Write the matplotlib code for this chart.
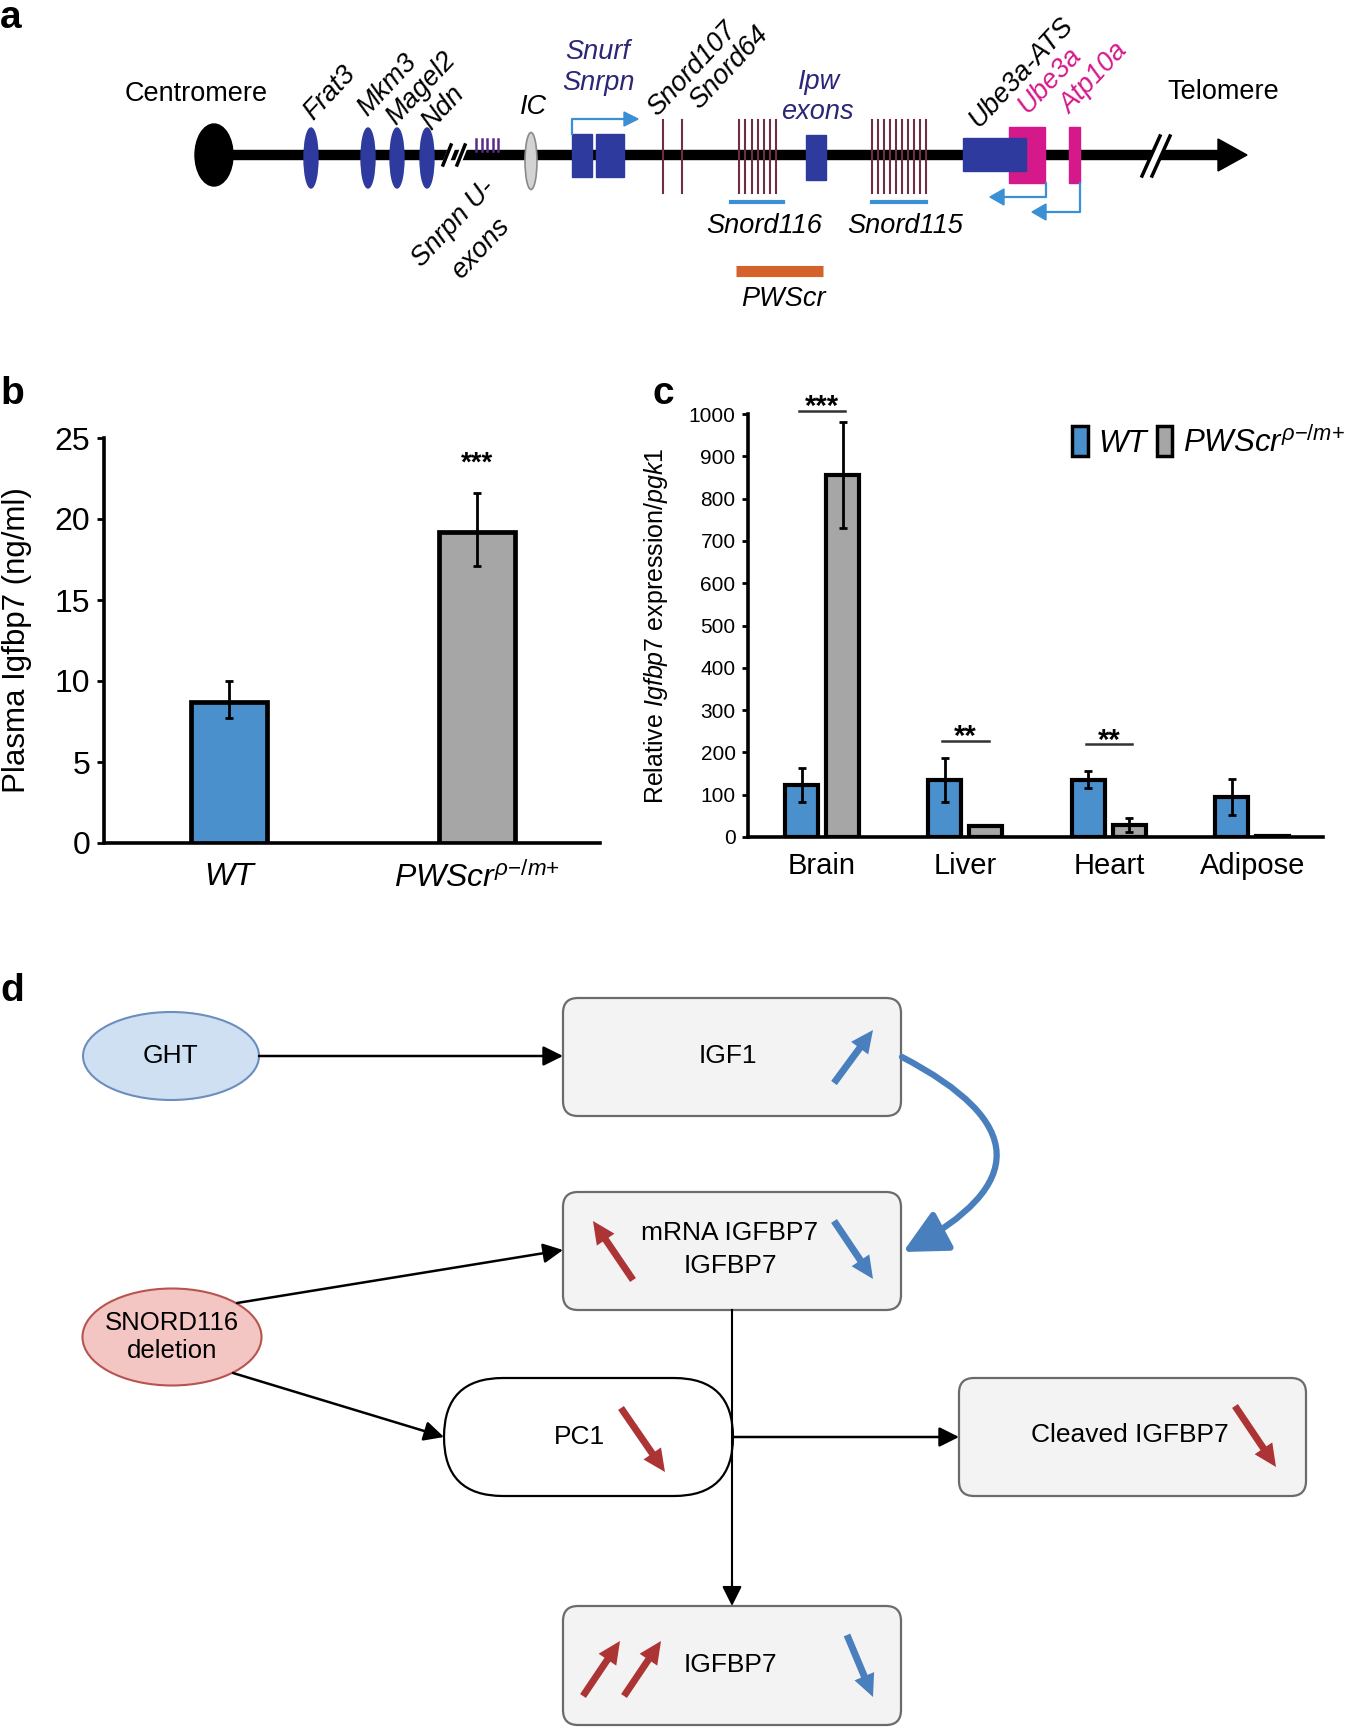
import matplotlib
matplotlib.use('Agg')
import matplotlib.pyplot as plt
from matplotlib.patches import Ellipse, Rectangle, FancyBboxPatch, FancyArrowPatch, Polygon, Patch
import numpy as np

plt.rcParams['font.family'] = ['Liberation Sans', 'DejaVu Sans']
plt.rcParams['mathtext.fontset'] = 'custom'
plt.rcParams['mathtext.it'] = 'Liberation Sans:italic'
plt.rcParams['mathtext.rm'] = 'Liberation Sans'
plt.rcParams['mathtext.cal'] = 'Liberation Sans:italic'

W, H = 1345, 1728
PWS = r'$PWScr^{\rho{-}/m{+}}$'

# ---- panel b data
b_groups = ['WT', PWS]
b_values = [8.7, 19.2]
b_err_lo = [1.0, 2.1]
b_err_hi = [1.3, 2.4]
b_colors = ['#4a90cd', '#a6a6a6']

# ---- panel c data
tissues = ['Brain', 'Liver', 'Heart', 'Adipose']
c_wt = [122, 135, 135, 95]
c_wt_err = [40, 52, 20, 42]
c_pws = [855, 27, 28, 3]
c_pws_err = [125, 0, 16, 0]
c_sig = ['***', '**', '**', '']
c_sig_y = [1008, 228, 219, 0]

# ---- panel a data (gene map)
gene_names = ['Frat3', 'Mkm3', 'Magel2', 'Ndn']
gene_x = [311, 368, 397, 427]
snord116_x = [739, 745, 752, 758, 764, 770, 776]
snord115_x = [872, 878, 884, 890, 896, 902, 908, 914, 920, 926]
snord_single_x = [663, 682]
uexon_x = [476, 482, 487, 493, 498]

fig = plt.figure(figsize=(W / 100, H / 100), dpi=100)
ov = fig.add_axes([0, 0, 1, 1])
ov.set_xlim(0, W)
ov.set_ylim(H, 0)
ov.axis('off')


def fx(x):
    return x / W


def fy(y):
    return 1 - y / H


# panel letters
for letter, (x, y) in zip('abcd', [(0, 0), (0, 376), (652, 376), (0, 973)]):
    ov.text(x, y, letter, fontsize=28, fontweight='bold', va='top', ha='left')

# ================= panel a =================
LY = 155
navy = '#2b2676'
gblue = '#2e3a9e'
maroon = '#6d2e46'
lblue = '#3b8fd4'
pink = '#d6198a'

ov.plot([215, 1222], [LY, LY], color='black', lw=7.5, solid_capstyle='butt', zorder=2)
ov.add_patch(Polygon([[1218, LY - 16], [1247, LY], [1218, LY + 16]], closed=True, color='black', zorder=2))
ov.add_patch(Ellipse((214, LY), 38, 62, color='black', zorder=3))
for gx in gene_x:
    ov.add_patch(Ellipse((gx, LY + 3), 14, 60, color=gblue, zorder=3))

# break marks
for bx in [449, 461]:
    ov.plot([bx - 4, bx + 4], [LY + 10, LY - 10], color='white', lw=5, zorder=3)
ov.plot([443, 451], [LY + 10, LY - 10], color='black', lw=2.5, zorder=4)
ov.plot([457, 465], [LY + 10, LY - 10], color='black', lw=2.5, zorder=4)
ov.plot([1148, 1164], [LY + 18, LY - 18], color='white', lw=6, zorder=3)
ov.plot([1142, 1160], [LY + 21, LY - 19], color='black', lw=2.5, zorder=4)
ov.plot([1152, 1170], [LY + 21, LY - 19], color='black', lw=2.5, zorder=4)

for ux in uexon_x:
    ov.plot([ux, ux], [139, 151], color='#5a2a8a', lw=1.8, zorder=4)

ov.add_patch(Ellipse((531, LY + 6), 12, 57, facecolor='#d3d3d3', edgecolor='#8a8a8a', lw=1.2, zorder=3))
ov.add_patch(Rectangle((572, 134), 20, 43, color=gblue, zorder=3))
ov.add_patch(Rectangle((596, 134), 28, 43, color=gblue, zorder=3))
ov.plot([572, 572, 626], [134, 119, 119], color=lblue, lw=1.6, zorder=4)
ov.add_patch(Polygon([[624, 112], [638, 119], [624, 126]], closed=True, color=lblue, zorder=4))

for sx in snord_single_x + snord116_x + snord115_x:
    ov.plot([sx, sx], [120, 193], color=maroon, lw=1.5, zorder=3)
ov.plot([731, 783], [202, 202], color=lblue, lw=3, zorder=3)
ov.plot([872, 926], [202, 202], color=lblue, lw=3, zorder=3)
ov.add_patch(Rectangle((806, 135), 20, 45, color=gblue, zorder=3))

ov.add_patch(Rectangle((1009, 127), 36, 56, color=pink, zorder=3))
ov.add_patch(Rectangle((1069, 127), 11, 56, color=pink, zorder=3))
ov.add_patch(Rectangle((963, 138), 63, 33, color=gblue, zorder=4))
ov.plot([1046, 1046, 1002], [183, 197, 197], color=lblue, lw=1.6, zorder=4)
ov.add_patch(Polygon([[1004, 189], [990, 197], [1004, 205]], closed=True, color=lblue, zorder=4))
ov.plot([1080, 1080, 1044], [183, 212, 212], color=lblue, lw=1.6, zorder=4)
ov.add_patch(Polygon([[1046, 204], [1032, 212], [1046, 220]], closed=True, color=lblue, zorder=4))

ov.plot([736, 823], [271, 271], color='#d4622a', lw=8, solid_capstyle='butt', zorder=3)

fa = 19.5
ov.text(196, 94, 'Centromere', fontsize=fa, ha='center', va='center')
ov.text(1223, 92, 'Telomere', fontsize=fa, ha='center', va='center')
rot_labels = [('Frat3', 313, 121, 'black'), ('Mkm3', 367, 117, 'black'),
              ('Magel2', 396, 126, 'black'), ('Ndn', 431, 131, 'black'),
              ('Snord107', 657, 117, 'black'), ('Snord64', 699, 110, 'black'),
              ('Ube3a-ATS', 979, 128, 'black'), ('Ube3a', 1028, 114, pink),
              ('Atp10a', 1070, 115, pink)]
for name, x, y, col in rot_labels:
    ov.text(x, y, name, fontsize=fa, style='italic', color=col, rotation=47,
            rotation_mode='anchor', ha='left', va='baseline')
ov.text(422, 268, 'Snrpn U-', fontsize=fa, style='italic', rotation=47,
        rotation_mode='anchor', ha='left', va='baseline')
ov.text(461, 280, 'exons', fontsize=fa, style='italic', rotation=47,
        rotation_mode='anchor', ha='left', va='baseline')
ov.text(533, 107, 'IC', fontsize=fa, style='italic', ha='center', va='center')
ov.text(598, 52, 'Snurf', fontsize=fa, style='italic', color=navy, ha='center', va='center')
ov.text(598, 83, 'Snrpn', fontsize=fa, style='italic', color=navy, ha='center', va='center')
ov.text(819, 82, 'Ipw', fontsize=fa, style='italic', color=navy, ha='center', va='center')
ov.text(817, 112, 'exons', fontsize=fa, style='italic', color=navy, ha='center', va='center')
ov.text(764, 226, 'Snord116', fontsize=fa, style='italic', ha='center', va='center')
ov.text(905, 226, 'Snord115', fontsize=fa, style='italic', ha='center', va='center')
ov.text(783, 299, 'PWScr', fontsize=fa, style='italic', ha='center', va='center')

# ================= panel b =================
axb = fig.add_axes([fx(104), fy(843), (600 - 104) / W, (843 - 438) / H])
axb.set_facecolor('none')
xb = np.arange(len(b_values))
axb.bar(xb, b_values, width=0.31, color=b_colors, edgecolor='black', linewidth=3.4,
        yerr=[b_err_lo, b_err_hi], capsize=3,
        error_kw=dict(elinewidth=2, capthick=2, ecolor='black'), zorder=3)
axb.text(1, 23.4, '***', ha='center', va='center', fontsize=20, fontweight='bold')
axb.set_xlim(-0.504, 1.496)
axb.set_ylim(0, 25)
axb.set_yticks([0, 5, 10, 15, 20, 25])
axb.set_xticks(xb)
axb.set_xticklabels(b_groups, fontsize=23)
axb.get_xticklabels()[0].set_style('italic')
axb.tick_params(axis='x', length=0, pad=14)
axb.tick_params(axis='y', labelsize=23, length=5, width=2, pad=5)
for s in ['top', 'right']:
    axb.spines[s].set_visible(False)
for s in ['left', 'bottom']:
    axb.spines[s].set_linewidth(2.6)
axb.set_ylabel('Plasma Igfbp7 (ng/ml)', fontsize=22.5)
axb.yaxis.set_label_coords(-0.146, 0.5)

# ================= panel c =================
axc = fig.add_axes([fx(748), fy(837), (1322.6 - 748) / W, (837 - 414) / H])
axc.set_facecolor('none')
xc = np.arange(len(tissues))
off, bw = 0.143, 0.23
ekw = dict(elinewidth=2, capthick=2, ecolor='black')
axc.bar(xc - off, c_wt, width=bw, color=b_colors[0], edgecolor='black', linewidth=3,
        yerr=c_wt_err, capsize=3, error_kw=ekw, zorder=3, label='WT')
axc.bar(xc + off, c_pws, width=bw, color=b_colors[1], edgecolor='black', linewidth=3,
        yerr=c_pws_err, capsize=3, error_kw=ekw, zorder=3, label=PWS)
for i, (sig, sy) in enumerate(zip(c_sig, c_sig_y)):
    if sig:
        axc.plot([i - off - 0.02, i + off + 0.02], [sy, sy], color='#333333', lw=1.8,
                 clip_on=False)
        axc.text(i, sy - 10, sig, ha='center', va='baseline', fontsize=21,
                 fontweight='bold', clip_on=False)
axc.set_xlim(-0.516, 3.49)
axc.set_ylim(0, 1000)
axc.set_yticks(np.arange(0, 1001, 100))
axc.set_xticks(xc)
axc.set_xticklabels(tissues, fontsize=21)
axc.tick_params(axis='x', length=0, pad=11)
axc.tick_params(axis='y', labelsize=15, length=4, width=2, pad=5)
for s in ['top', 'right']:
    axc.spines[s].set_visible(False)
for s in ['left', 'bottom']:
    axc.spines[s].set_linewidth(2.6)
axc.set_ylabel(r'Relative $\mathit{Igfbp7}$ expression/$\mathit{pgk1}$', fontsize=18)
axc.yaxis.set_label_coords(-0.135, 0.5)
handles = [Patch(facecolor=b_colors[0], edgecolor='black', linewidth=2.5),
           Patch(facecolor=b_colors[1], edgecolor='black', linewidth=2.5)]
fig.legend(handles, ['WT', PWS], loc='upper left', bbox_to_anchor=(fx(1072), fy(426)),
           ncol=2, frameon=False, prop=dict(size=22.5, style='italic'),
           handlelength=0.5, handleheight=1.1, handletextpad=0.35, columnspacing=0.3,
           borderpad=0, borderaxespad=0)

# ================= panel d =================
fd = 19
box_fc, box_ec = '#f3f3f3', '#6b6b6b'
red, blue = '#ad3434', '#4a7fbe'


def rbox(x0, y0, x1, y1, fc=box_fc, ec=box_ec, r=15, lw=1.6):
    ov.add_patch(FancyBboxPatch((x0, y0), x1 - x0, y1 - y0,
                                boxstyle='round,pad=0,rounding_size=%g' % r,
                                facecolor=fc, edgecolor=ec, lw=lw, zorder=2))


def conn(p0, p1, lw=1.8):
    ov.add_patch(FancyArrowPatch(p0, p1, arrowstyle='-|>,head_length=0.6,head_width=0.3',
                                 mutation_scale=20, color='black', lw=lw, zorder=3,
                                 shrinkA=0, shrinkB=0))


def trend(p0, p1, col):
    ov.add_patch(FancyArrowPatch(p0, p1,
                                 arrowstyle='simple,head_length=0.9,head_width=0.85,tail_width=0.28',
                                 mutation_scale=18, color=col, lw=0, zorder=4,
                                 shrinkA=0, shrinkB=0))


ov.add_patch(Ellipse((171, 1056), 176, 88, facecolor='#cfe0f2', edgecolor='#6c8ebf', lw=1.5, zorder=2))
ov.text(171, 1056, 'GHT', fontsize=fd, ha='center', va='center', zorder=5)
ov.add_patch(Ellipse((172, 1337), 179, 97, facecolor='#f4c6c3', edgecolor='#b85450', lw=1.5, zorder=2))
ov.text(172, 1337, 'SNORD116\ndeletion', fontsize=fd - 0.5, ha='center', va='center',
        linespacing=1.25, zorder=5)

rbox(563, 998, 901, 1116)
ov.text(728, 1056, 'IGF1', fontsize=fd, ha='center', va='center', zorder=5)
rbox(563, 1192, 901, 1310)
ov.text(730, 1233, 'mRNA IGFBP7', fontsize=fd, ha='center', va='center', zorder=5)
ov.text(730, 1266, 'IGFBP7', fontsize=fd, ha='center', va='center', zorder=5)
rbox(444, 1378, 733, 1496, fc='white', ec='black', r=59)
ov.text(579, 1437, 'PC1', fontsize=fd, ha='center', va='center', zorder=5)
rbox(959, 1378, 1306, 1496)
ov.text(1130, 1435, 'Cleaved IGFBP7', fontsize=fd, ha='center', va='center', zorder=5)
rbox(563, 1606, 901, 1725)
ov.text(730, 1665, 'IGFBP7', fontsize=fd, ha='center', va='center', zorder=5)

conn((259, 1056), (563, 1056))
conn((237, 1303), (563, 1250))
conn((233, 1373), (444, 1437))
conn((733, 1437), (959, 1437))
ov.plot([732, 732], [1310, 1590], color='black', lw=1.5, zorder=3)
conn((732, 1580), (732, 1606), lw=1.5)

ov.add_patch(FancyArrowPatch((902, 1057), (903, 1252), connectionstyle='arc3,rad=-0.95',
                             arrowstyle='-|>,head_length=0.7,head_width=0.35',
                             mutation_scale=38, color=blue, lw=4.5, zorder=3,
                             shrinkA=0, shrinkB=0))

trend((834, 1083), (873, 1030), blue)
trend((633, 1280), (593, 1221), red)
trend((834, 1221), (873, 1279), blue)
trend((621, 1408), (665, 1472), red)
trend((1235, 1406), (1276, 1467), red)
trend((583, 1696), (620, 1641), red)
trend((624, 1696), (661, 1641), red)
trend((847, 1635), (873, 1697), blue)

fig.savefig('out.png', dpi=100)
